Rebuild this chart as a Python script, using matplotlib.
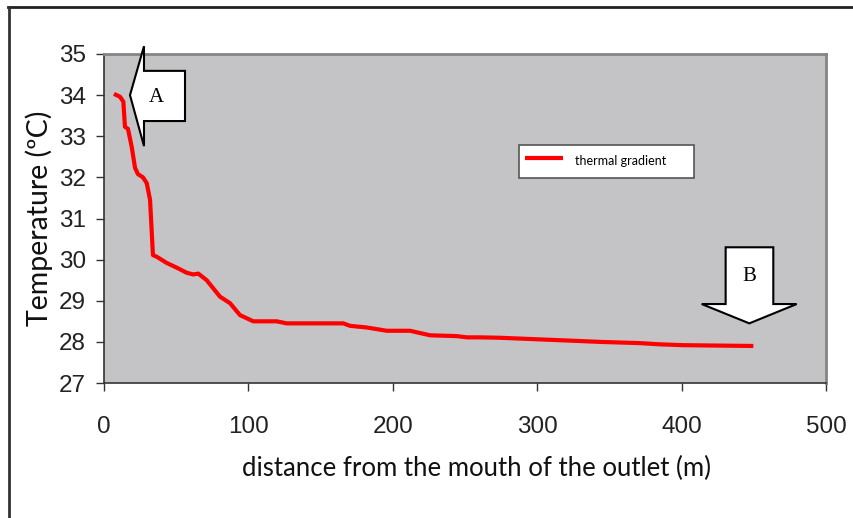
import matplotlib
matplotlib.use("Agg")
import matplotlib.pyplot as plt
from matplotlib.patches import Polygon

# distance from the mouth of the outlet (m) and temperature (C)
distance = [6.9, 11.1, 13.4, 14.5, 16.6, 19.2, 21.5, 23.5, 27.0, 29.6, 31.9, 33.9,
            36.5, 43.4, 51.2, 57.3, 61.8, 65.3, 71.1, 80.3, 87.3, 94.2, 103.4,
            119.5, 126.5, 165.7, 170.4, 181.9, 195.8, 211.9, 225.8, 244.3, 251.2,
            260.4, 274.0, 302.0, 330.0, 343.0, 371.0, 385.0, 400.8, 449.7]
temperature = [34.03, 33.96, 33.84, 33.23, 33.18, 32.74, 32.23, 32.08, 32.00, 31.86,
               31.45, 30.11, 30.07, 29.92, 29.79, 29.68, 29.64, 29.66, 29.50, 29.10,
               28.94, 28.65, 28.50, 28.50, 28.45, 28.45, 28.39, 28.35, 28.27, 28.27,
               28.16, 28.14, 28.11, 28.11, 28.10, 28.06, 28.02, 28.00, 27.97, 27.94,
               27.92, 27.90]

x_ticks = [0, 100, 200, 300, 400, 500]
y_ticks = [27, 28, 29, 30, 31, 32, 33, 34, 35]

# block arrow call-outs (data coordinates)
arrow_a = [(18.0, 34.0), (27.7, 35.19), (27.7, 34.59), (56.1, 34.59),
           (56.1, 33.37), (27.7, 33.37), (27.7, 32.76)]
arrow_b = [(446.9, 28.45), (413.9, 28.92), (430.5, 28.92), (430.5, 30.30),
           (463.5, 30.30), (463.5, 28.92), (479.7, 28.92)]

tick_font = ["Liberation Sans", "DejaVu Sans"]
label_font = ["Lato", "DejaVu Sans"]

fig = plt.figure(figsize=(8.54, 5.18), dpi=100)
ax = fig.add_axes([104 / 854, 1 - 383 / 518, 722 / 854, 329 / 518])
ax.set_facecolor("#c4c3c6")

ax.plot(distance, temperature, color="#ff0000", lw=3, solid_capstyle="butt",
        label="thermal gradient")

ax.set_xlim(0, 500)
ax.set_ylim(27, 35)
ax.set_xticks(x_ticks)
ax.set_yticks(y_ticks)
ax.tick_params(axis="both", direction="out", length=6, width=1, color="#333333",
               labelsize=17.5, labelcolor="#222222")
ax.tick_params(axis="x", pad=18)
ax.tick_params(axis="y", pad=7)
for lab in ax.get_xticklabels() + ax.get_yticklabels():
    lab.set_family(tick_font)

for side in ("left", "bottom"):
    ax.spines[side].set_color("#333333")
    ax.spines[side].set_linewidth(1.2)
for side in ("top", "right"):
    ax.spines[side].set_color("#858585")
    ax.spines[side].set_linewidth(2)

ax.set_xlabel("distance from the mouth of the outlet (m)", family=label_font,
              fontsize=18.5, color="#111111")
ax.xaxis.set_label_coords(0.5166, -0.222)
ax.set_ylabel("Temperature (ºC)", family=label_font, fontsize=20.5,
              labelpad=4, color="#111111")

leg = ax.legend(loc="center left", bbox_to_anchor=(0.5748, 0.614, 0.2422, 0.1185),
                mode="expand", prop={"family": label_font, "size": 9},
                frameon=True, fancybox=False, borderpad=0.45, handlelength=3.1,
                handleheight=2.3, handletextpad=0.9, borderaxespad=0)
leg.get_frame().set_edgecolor("#555555")
leg.get_frame().set_linewidth(1.2)
leg.get_frame().set_facecolor("white")
leg.get_frame().set_alpha(1)

for pts, letter, pos in ((arrow_a, "A", (36.0, 33.95)), (arrow_b, "B", (446.9, 29.58))):
    ax.add_patch(Polygon(pts, closed=True, facecolor="white", edgecolor="black",
                         lw=1.5, clip_on=False, zorder=4))
    ax.text(pos[0], pos[1], letter, ha="center", va="center", fontsize=15,
            family=["Liberation Serif", "DejaVu Serif"], zorder=5)

# outer chart frame
fig.add_artist(plt.Line2D([8 / 854, 1], [1 - 7 / 518, 1 - 7 / 518],
                          color="#222222", lw=2, transform=fig.transFigure))
fig.add_artist(plt.Line2D([9 / 854, 9 / 854], [0, 1 - 7 / 518],
                          color="#333333", lw=2, transform=fig.transFigure))

fig.savefig("out.png", dpi=100)
